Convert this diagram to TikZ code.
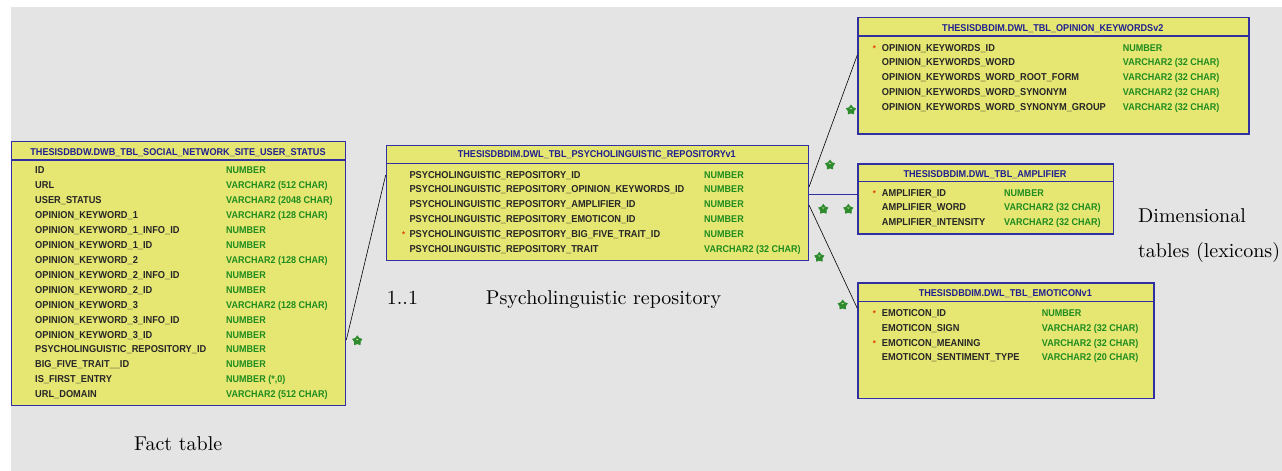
\documentclass[tikz,border=0pt]{standalone}
\usepackage{fontspec}
\usetikzlibrary{shapes.geometric,calc}
\newfontfamily\dbf{Liberation Sans}[FakeStretch=0.92]
\newfontfamily\lmten{lmroman10-regular.otf}
\definecolor{bggray}{HTML}{E4E4E4}
\definecolor{tyellow}{HTML}{E6E673}
\definecolor{tblue}{HTML}{3030A0}
\definecolor{tnavy}{HTML}{202090}
\definecolor{tgreen}{HTML}{1E8C1E}
\definecolor{sgreen}{HTML}{2E8B2E}
\definecolor{tred}{HTML}{E04000}
\tikzset{
  tbox/.style={draw=tblue, fill=tyellow, line width=1.3pt, inner sep=0, anchor=north west},
  sepline/.style={draw=tblue, line width=1.3pt},
  hdr/.style={font=\dbf\bfseries\fontsize{9.9}{11}\selectfont, text=tnavy, inner sep=0, anchor=base},
  fname/.style={font=\dbf\bfseries\fontsize{10.05}{11}\selectfont, text=black!85, inner sep=0, anchor=base west},
  ftype/.style={font=\dbf\bfseries\fontsize{9.8}{11}\selectfont, text=tgreen, inner sep=0, anchor=base west},
  reqmark/.style={font=\dbf\bfseries\fontsize{8.5}{9}\selectfont, text=tred, inner sep=0, anchor=base west},
  rel/.style={draw=black, line width=0.6pt},
  relblue/.style={draw=tblue, line width=1pt},
  fk/.style={star, star points=5, star point ratio=1.6, fill=sgreen, draw=sgreen, line width=0.8pt, minimum size=9.5pt, inner sep=0,
    path picture={\fill[tyellow!40!white] ([yshift=0.3pt]path picture bounding box.center) -- ++(-1.4pt,0.9pt) -- ++(2.8pt,0) -- cycle;}},
  lbl/.style={font=\lmten\fontsize{20}{24}\selectfont, inner sep=0, anchor=base west},
}
\begin{document}
\begin{tikzpicture}[x=1pt,y=-1pt]
\useasboundingbox (0,0) rectangle (1282,471);
\fill[white] (0,0) rectangle (1282,471);
\fill[bggray] (11,7) rectangle (1282,471);

% ---------- Fact table ----------
\node[tbox, minimum width=334pt, minimum height=264pt] (fact) at (11,141) {};
\draw[sepline] ([yshift=-19pt]fact.north west) -- ([yshift=-19pt]fact.north east);
\node[hdr] (facth) at (178,155.3) {THESISDBDW.DWB\_TBL\_SOCIAL\_NETWORK\_SITE\_USER\_STATUS};
\foreach \nm/\ty [count=\i from 0] in {
  ID/NUMBER,
  URL/VARCHAR2 (512 CHAR),
  USER\_STATUS/VARCHAR2 (2048 CHAR),
  OPINION\_KEYWORD\_1/VARCHAR2 (128 CHAR),
  OPINION\_KEYWORD\_1\_INFO\_ID/NUMBER,
  OPINION\_KEYWORD\_1\_ID/NUMBER,
  OPINION\_KEYWORD\_2/VARCHAR2 (128 CHAR),
  OPINION\_KEYWORD\_2\_INFO\_ID/NUMBER,
  OPINION\_KEYWORD\_2\_ID/NUMBER,
  OPINION\_KEYWORD\_3/VARCHAR2 (128 CHAR),
  OPINION\_KEYWORD\_3\_INFO\_ID/NUMBER,
  OPINION\_KEYWORD\_3\_ID/NUMBER,
  PSYCHOLINGUISTIC\_REPOSITORY\_ID/NUMBER,
  BIG\_FIVE\_TRAIT\_\_ID/NUMBER,
  {IS\_FIRST\_ENTRY/NUMBER (*,0)},
  URL\_DOMAIN/VARCHAR2 (512 CHAR)}{
  \node[fname] (fn\i) at (35,{173.8+14.93*\i}) {\nm};
  \node[ftype] (ft\i) at (226,{173.8+14.93*\i}) {\ty};
}

% ---------- Psycholinguistic repository ----------
\node[tbox, minimum width=422pt, minimum height=115pt] (psy) at (385.7,145) {};
\draw[sepline] ([yshift=-18.3pt]psy.north west) -- ([yshift=-18.3pt]psy.north east);
\node[hdr] (psyh) at (596.7,157.6) {THESISDBDIM.DWL\_TBL\_PSYCHOLINGUISTIC\_REPOSITORYv1};
\foreach \nm/\ty [count=\i from 0] in {
  PSYCHOLINGUISTIC\_REPOSITORY\_ID/NUMBER,
  PSYCHOLINGUISTIC\_REPOSITORY\_OPINION\_KEYWORDS\_ID/NUMBER,
  PSYCHOLINGUISTIC\_REPOSITORY\_AMPLIFIER\_ID/NUMBER,
  PSYCHOLINGUISTIC\_REPOSITORY\_EMOTICON\_ID/NUMBER,
  PSYCHOLINGUISTIC\_REPOSITORY\_BIG\_FIVE\_TRAIT\_ID/NUMBER,
  PSYCHOLINGUISTIC\_REPOSITORY\_TRAIT/VARCHAR2 (32 CHAR)}{
  \node[fname] (pn\i) at (409.3,{178+14.95*\i}) {\nm};
  \node[ftype] (pt\i) at (704,{178+14.95*\i}) {\ty};
}
\node[reqmark] (pr4) at (402,{178+14.95*4}) {*};

% ---------- Opinion keywords ----------
\node[tbox, minimum width=391pt, minimum height=116.6pt] (opk) at (857.3,16.7) {};
\draw[sepline] ([yshift=-19.3pt]opk.north west) -- ([yshift=-19.3pt]opk.north east);
\node[hdr] (opkh) at (1052.8,31.9) {THESISDBDIM.DWL\_TBL\_OPINION\_KEYWORDSv2};
\foreach \nm/\ty [count=\i from 0] in {
  OPINION\_KEYWORDS\_ID/NUMBER,
  OPINION\_KEYWORDS\_WORD/VARCHAR2 (32 CHAR),
  OPINION\_KEYWORDS\_WORD\_ROOT\_FORM/VARCHAR2 (32 CHAR),
  OPINION\_KEYWORDS\_WORD\_SYNONYM/VARCHAR2 (32 CHAR),
  OPINION\_KEYWORDS\_WORD\_SYNONYM\_GROUP/VARCHAR2 (32 CHAR)}{
  \node[fname] (on\i) at (881.7,{51+14.85*\i}) {\nm};
  \node[ftype] (ot\i) at (1122.7,{51+14.85*\i}) {\ty};
}
\node[reqmark] (or0) at (872.7,51) {*};

% ---------- Amplifier ----------
\node[tbox, minimum width=255.4pt, minimum height=70pt] (amp) at (857.3,163.3) {};
\draw[sepline] ([yshift=-18.4pt]amp.north west) -- ([yshift=-18.4pt]amp.north east);
\node[hdr] (amph) at (985,177.6) {THESISDBDIM.DWL\_TBL\_AMPLIFIER};
\foreach \nm/\ty [count=\i from 0] in {
  AMPLIFIER\_ID/NUMBER,
  AMPLIFIER\_WORD/VARCHAR2 (32 CHAR),
  AMPLIFIER\_INTENSITY/VARCHAR2 (32 CHAR)}{
  \node[fname] (an\i) at (881.7,{196.4+14.5*\i}) {\nm};
  \node[ftype] (at\i) at (1004,{196.4+14.5*\i}) {\ty};
}
\node[reqmark] (ar0) at (872.7,196.4) {*};

% ---------- Emoticon ----------
\node[tbox, minimum width=296pt, minimum height=115.4pt] (emo) at (857.3,282.3) {};
\draw[sepline] ([yshift=-19.4pt]emo.north west) -- ([yshift=-19.4pt]emo.north east);
\node[hdr] (emoh) at (1005.3,296.9) {THESISDBDIM.DWL\_TBL\_EMOTICONv1};
\foreach \nm/\ty [count=\i from 0] in {
  EMOTICON\_ID/NUMBER,
  EMOTICON\_SIGN/VARCHAR2 (32 CHAR),
  EMOTICON\_MEANING/VARCHAR2 (32 CHAR),
  EMOTICON\_SENTIMENT\_TYPE/VARCHAR2 (20 CHAR)}{
  \node[fname] (en\i) at (881.7,{316.4+14.8*\i}) {\nm};
  \node[ftype] (et\i) at (1041.7,{316.4+14.8*\i}) {\ty};
}
\node[reqmark] (er0) at (872.7,316.4) {*};
\node[reqmark] (er2) at (872.7,{316.4+14.8*2}) {*};

% ---------- Connectors ----------
\draw[rel] ([yshift=-199pt]fact.north east) -- ([yshift=-30pt]psy.north west);
\draw[rel] ([yshift=-42pt]psy.north east) -- ([yshift=-38.3pt]opk.north west);
\draw[relblue] ([yshift=-49.3pt]psy.north east) -- ([yshift=-31pt]amp.north west);
\draw[rel] ([yshift=-60pt]psy.north east) -- ([yshift=-26pt]emo.north west);

% ---------- FK markers ----------
\node[fk] (s1) at (357.3,340.7) {};
\node[fk] (s2) at (851,110) {};
\node[fk] (s3) at (830,165) {};
\node[fk] (s4) at (823.3,209.3) {};
\node[fk] (s5) at (848.3,209.3) {};
\node[fk] (s6) at (819.3,257.3) {};
\node[fk] (s7) at (842.7,305) {};

% ---------- Labels ----------
\node[lbl] (lfact) at (134,450) {Fact table};
\node[lbl] (lone) at (386.7,304) {1..1};
\node[lbl] (lpsy) at (485.7,304) {Psycholinguistic repository};
\node[lbl] (ldim1) at (1138,222) {Dimensional};
\node[lbl] (ldim2) at (1138,257) {tables (lexicons)};
\end{tikzpicture}
\end{document}
